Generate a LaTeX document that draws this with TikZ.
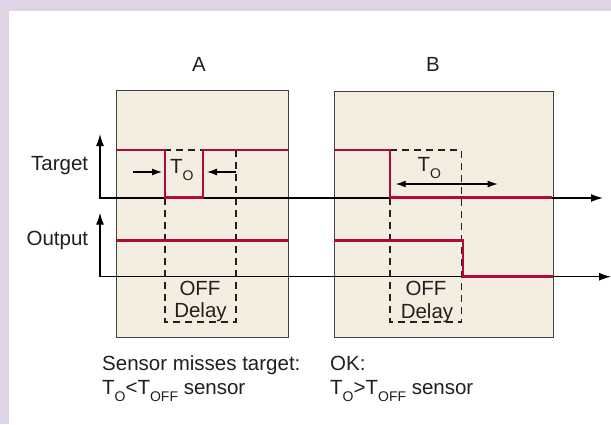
\documentclass[tikz,border=0pt]{standalone}
\usepackage{fontspec}
\setmainfont{Liberation Sans}
\usetikzlibrary{arrows.meta}
\definecolor{lav}{HTML}{DFD3E6}
\definecolor{cream}{HTML}{F4EEE1}
\definecolor{sig}{HTML}{B00A3C}
\definecolor{ink}{HTML}{231F20}
\newcommand\lowsub[1]{\raisebox{-7pt}{\fontsize{14}{14}\selectfont #1}}
\begin{document}
\begin{tikzpicture}[x=1pt,y=-1pt,
  font=\fontsize{20.5}{24}\selectfont,
  txt/.style={text=ink, inner sep=0pt},
  panel/.style={fill=cream, draw=ink!85, line width=1pt},
  axis/.style={draw=black, line width=1.3pt, {Latex[length=12pt,width=8pt]}-{Latex[length=12pt,width=8pt]}},
  guide/.style={draw=ink, line width=1.2pt, dash pattern=on 7pt off 5pt},
  signal/.style={draw=sig, line width=2.7pt},
  dim/.style={draw=black, line width=1.2pt, -{Latex[length=10pt,width=7pt]}},
  ddim/.style={draw=black, line width=1.2pt, {Latex[length=10pt,width=7pt]}-{Latex[length=10pt,width=7pt]}}]
\useasboundingbox (0,0) rectangle (611,424);
\fill[lav] (0,0) rectangle (611,424);
\fill[white] (9,10.7) rectangle (611,424);
% panels
\path[panel] (116.7,90.7) rectangle (288.7,337.7);
\path[panel] (334.3,91) rectangle (553.3,337.5);
% axes
\coordinate (ty) at (100,134);
\coordinate (to) at (100,198);
\coordinate (tx) at (603,198);
\coordinate (oy) at (100,212.7);
\coordinate (oo) at (100,276.7);
\coordinate (ox) at (611,276.7);
\draw[axis] (ty) -- (to) -- (tx);
\draw[axis] (oy) -- (oo) -- (ox);
% dashed windows
\draw[guide] (165,150) rectangle (236,322);
\draw[guide] (390,150) rectangle (461.7,322);
% signals
\draw[signal] (116.7,150) -- (165,150) -- (165,197.5) -- (203,197.5) -- (203,150) -- (288.7,150);
\draw[signal] (116.7,240.5) -- (288.7,240.5);
\draw[signal] (334.3,150) -- (390,150) -- (390,197.5) -- (552,197.5);
\draw[signal] (334.3,240.5) -- (463,240.5) -- (463,276.7) -- (553,276.7);
% dimension arrows
\coordinate (a1) at (133,172); \coordinate (a2) at (162,172);
\coordinate (a3) at (236,172); \coordinate (a4) at (207,172);
\draw[dim] (a1) -- (a2);
\draw[dim] (a3) -- (a4);
\coordinate (b1) at (395.7,184); \coordinate (b2) at (497.7,184);
\draw[ddim] (b1) -- (b2);
% labels
\node[txt, anchor=base] (lA) at (199,71) {A};
\node[txt, anchor=base] (lB) at (433,71) {B};
\node[txt, anchor=base east] (lt) at (88.3,170) {Target};
\node[txt, anchor=base east] (lo) at (88.3,245) {Output};
\node[txt, anchor=base west] (toa) at (170,173) {T\lowsub{O}};
\node[txt, anchor=base west] (tob) at (417.3,171.5) {T\lowsub{O}};
\node[txt, anchor=base] (offa) at (200,295) {OFF};
\node[txt, anchor=base] (dela) at (200.5,317) {Delay};
\node[txt, anchor=base] (offb) at (426,295) {OFF};
\node[txt, anchor=base] (delb) at (427,318) {Delay};
\node[txt, anchor=base west] (ca1) at (102,370) {Sensor misses target:};
\node[txt, anchor=base west] (ca2) at (102,394) {T\lowsub{O}<T\lowsub{OFF} sensor};
\node[txt, anchor=base west] (cb1) at (330,370) {OK:};
\node[txt, anchor=base west] (cb2) at (330,394) {T\lowsub{O}>T\lowsub{OFF} sensor};
\end{tikzpicture}
\end{document}
